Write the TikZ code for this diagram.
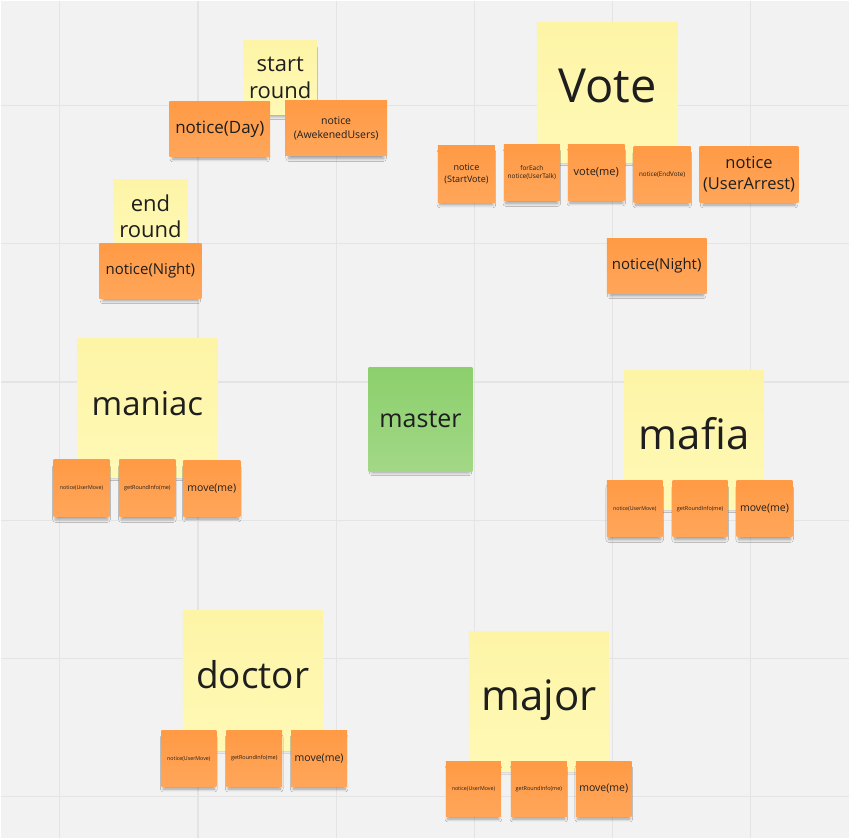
\documentclass[tikz,border=0pt]{standalone}
\usepackage{fontspec}
\setmainfont{Open Sans}
\usetikzlibrary{shadows.blur}
\definecolor{board}{HTML}{F2F2F2}
\definecolor{gridline}{HTML}{E4E4E4}
\definecolor{ink}{HTML}{1E1E1E}
\definecolor{yelTop}{HTML}{FDF4A6}
\definecolor{yelBot}{HTML}{FFF9B6}
\definecolor{orTop}{HTML}{FF9A45}
\definecolor{orBot}{HTML}{FFA65A}
\definecolor{grTop}{HTML}{8CCF6C}
\definecolor{grBot}{HTML}{A2D887}
\newcommand{\fsz}[2]{\fontsize{#2}{\fpeval{#1*#2}}\selectfont}
\begin{document}
\begin{tikzpicture}[x=1pt,y=-1pt,
  note/.style={inner sep=0pt,align=center,text=ink,
    blur shadow={shadow xshift=0pt,shadow yshift=-5pt,shadow scale=0.93,shadow blur steps=6,shadow blur radius=3pt,shadow opacity=35}},
  ynote/.style={note,top color=yelTop,bottom color=yelBot,minimum width=#1,minimum height=#1},
  onote/.style={note,top color=orTop,bottom color=orBot,minimum width=#1,minimum height=55},
  gnote/.style={note,top color=grTop,bottom color=grBot,minimum width=104,minimum height=105},
  big/.style={font=\fsz{1.3}{#1},text height={0.75*#1pt},text depth={0.32*#1pt}}]
\fill[color=board] (0,0) rectangle (850,839);
\foreach \gx in {59.3,197.7,336.1,474.5,612.9,751.3}
  \draw[color=gridline,line width=1.2pt] (\gx,0)--(\gx,839);
\foreach \gy in {105.1,243.5,381.9,520.3,658.7,797.1}
  \draw[color=gridline,line width=1.2pt] (0,\gy)--(850,\gy);
% start / end of round
\node (startround) at (280,77) [ynote=74,minimum height=74,font=\fsz{1.22}{22}] {start\\round};
\node (endround) at (150,216) [ynote=74,font=\fsz{1.22}{22}] {end\\round};
\node (noticeday) at (219.5,128.5) [onote=101,font=\fsz{1.3}{17}] {notice(Day)};
\node (noticeawake) at (336,128) [onote=102,font=\fsz{1.33}{10.5}] {notice\\(AwekenedUsers)};
\node (noticenightl) at (150,270.5) [onote=102,font=\fsz{1.3}{15}] {notice(Night)};
% vote
\node (vote) at (607.5,92) [ynote=141,big=47] {Vote};
\node (startvote) at (466.5,173.5) [onote=57,minimum height=57,font=\fsz{1.33}{9}] {notice\\(StartVote)};
\node (foreach) at (532,172.5) [onote=56,minimum height=56,font=\fsz{1.25}{6.5}] {forEach\\notice(UserTalk)};
\node (voteme) at (596.5,172) [onote=57,minimum height=56,font=\fsz{1.3}{11}] {vote(me)};
\node (endvote) at (662.5,174) [onote=57,minimum height=56,font=\fsz{1.3}{6.3}] {notice(EndVote)};
\node (arrest) at (749.5,174) [onote=99,minimum height=56,font=\fsz{1.27}{16.5}] {notice\\(UserArrest)};
\node (noticenightr) at (657,265.5) [onote=100,font=\fsz{1.3}{15}] {notice(Night)};
% master
\node (master) at (420.5,419.5) [gnote,font=\fsz{1.3}{25}] {master};
% roles
\node (maniac) at (147,408) [ynote=140,big=33] {maniac};
\node (maniacuser) at (81,488.5) [onote=56,minimum height=57,font=\fsz{1.3}{5.3}] {notice(UserMove)};
\node (maniacinfo) at (147,488.5) [onote=56,minimum height=57,font=\fsz{1.3}{5.5}] {getRoundInfo(me)};
\node (maniacmove) at (211.5,488.5) [onote=57,minimum height=56,font=\fsz{1.3}{10.5}] {move(me)};
\node (mafia) at (694.5,440) [ynote=140,big=42] {mafia};
\node (mafiauser) at (635,509) [onote=56,minimum height=56,font=\fsz{1.3}{5.3}] {notice(UserMove)};
\node (mafiainfo) at (700.5,509) [onote=55,minimum height=56,font=\fsz{1.3}{5.5}] {getRoundInfo(me)};
\node (mafiamove) at (765,509) [onote=56,minimum height=56,font=\fsz{1.3}{10.5}] {move(me)};
\node (doctor) at (252.5,681) [ynote=140,big=37] {doctor};
\node (doctoruser) at (188.5,759) [onote=55,minimum height=56,font=\fsz{1.3}{5.3}] {notice(UserMove)};
\node (doctorinfo) at (254,759) [onote=56,minimum height=56,font=\fsz{1.3}{5.5}] {getRoundInfo(me)};
\node (doctormove) at (319,759) [onote=56,minimum height=56,font=\fsz{1.3}{10.5}] {move(me)};
\node (major) at (539,702) [ynote=140,big=42] {major};
\node (majoruser) at (473.5,789.5) [onote=55,minimum height=55,font=\fsz{1.3}{5.3}] {notice(UserMove)};
\node (majorinfo) at (539,789.5) [onote=56,minimum height=55,font=\fsz{1.3}{5.5}] {getRoundInfo(me)};
\node (majormove) at (604,789.5) [onote=56,minimum height=55,font=\fsz{1.3}{10.5}] {move(me)};
\end{tikzpicture}
\end{document}
